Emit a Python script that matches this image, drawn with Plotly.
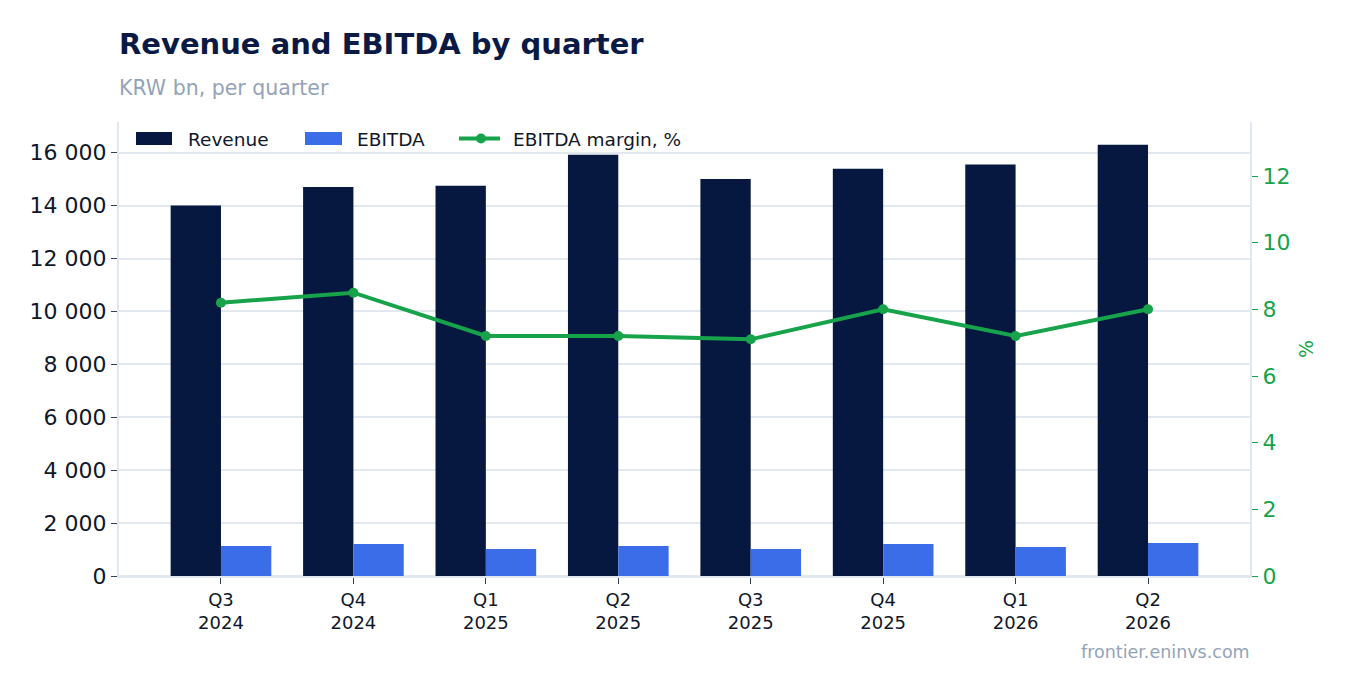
import plotly.graph_objects as go

quarters = ["Q3<br>2024", "Q4<br>2024", "Q1<br>2025", "Q2<br>2025",
            "Q3<br>2025", "Q4<br>2025", "Q1<br>2026", "Q2<br>2026"]
revenue = [14000, 14700, 14750, 15920, 15010, 15390, 15550, 16300]
ebitda = [1135, 1210, 1020, 1135, 1020, 1210, 1100, 1250]
margin = [8.2, 8.5, 7.2, 7.2, 7.1, 8.0, 7.2, 8.0]
series_names = ["Revenue", "EBITDA", "EBITDA margin, %"]

NAVY = "#061740"
BLUE = "#3b6de8"
GREEN = "#16a34a"
GRID = "#e2e8f0"
TEXT = "#0f172a"

# plot area in page pixels (page has an 8px body margin)
PL, PR, PT, PB = 119, 1250, 122, 576
PW, PH = PR - PL, PB - PT


def px(X):
    return (X - PL) / PW


def py(Y):
    return (PB - Y) / PH


fig = go.Figure()
fig.add_trace(go.Bar(x=quarters, y=revenue, name=series_names[0], marker_color=NAVY,
                     marker_line_width=0))
fig.add_trace(go.Bar(x=quarters, y=ebitda, name=series_names[1], marker_color=BLUE,
                     marker_line_width=0))
fig.add_trace(go.Scatter(x=quarters, y=margin, name=series_names[2], yaxis="y2",
                         mode="lines+markers", line=dict(color=GREEN, width=4),
                         marker=dict(size=10, color=GREEN)))

fig.update_layout(
    width=1350, height=693,
    font=dict(family="DejaVu Sans", color=TEXT),
    paper_bgcolor="white", plot_bgcolor="white",
    margin=dict(l=PL - 8, r=1350 - (PR - 8), t=PT - 8, b=693 - (PB - 8)),
    title=dict(text="<b>Revenue and EBITDA by quarter</b>", x=(119 - 8) / 1350, xanchor="left",
               y=1 - (44 - 8) / 693, yanchor="middle", font=dict(size=29, color="#0b1a44")),
    separators=". ",
    barmode="group", bargap=0.24, bargroupgap=0,
    showlegend=False,
    xaxis=dict(range=[-0.77, 7.77], tickfont=dict(size=18), ticks="outside", ticklen=6,
               tickcolor="#334155", showline=True, linecolor=GRID, linewidth=2),
    yaxis=dict(range=[0, 17160], tickvals=list(range(0, 16001, 2000)), tickformat=",d",
               tickfont=dict(size=22), ticks="outside", ticklen=6, tickcolor="#334155",
               showgrid=True, gridcolor=GRID, gridwidth=2,
               zeroline=True, zerolinecolor=GRID, zerolinewidth=2,
               showline=True, linecolor=GRID, linewidth=2),
    yaxis2=dict(overlaying="y", side="right", range=[0, 13.62], tickvals=list(range(0, 13, 2)),
                tickfont=dict(size=22, color=GREEN), ticks="outside", ticklen=6, tickcolor=GREEN,
                showgrid=False, zeroline=False, showline=True, linecolor=GRID, linewidth=2,
                title=dict(text="%", font=dict(size=19, color=GREEN), standoff=10)),
)

# manual legend (wide swatches like the reference)
fig.add_shape(type="rect", xref="paper", yref="paper", x0=px(136), x1=px(172),
              y0=py(145), y1=py(132), fillcolor=NAVY, line_width=0)
fig.add_shape(type="rect", xref="paper", yref="paper", x0=px(305), x1=px(342),
              y0=py(145), y1=py(132), fillcolor=BLUE, line_width=0)
fig.add_shape(type="line", xref="paper", yref="paper", x0=px(459), x1=px(500),
              y0=py(138.5), y1=py(138.5), line=dict(color=GREEN, width=4))
fig.add_shape(type="circle", xref="paper", yref="paper", x0=px(476), x1=px(486),
              y0=py(143.5), y1=py(133.5), fillcolor=GREEN, line_width=0)
for X, name in zip([186, 355, 511], series_names):
    fig.add_annotation(text=name, xref="paper", yref="paper", x=px(X), y=py(139.5),
                       xanchor="left", yanchor="middle", showarrow=False,
                       font=dict(size=18.5, color=TEXT))

fig.add_annotation(text="KRW bn, per quarter", xref="paper", yref="paper",
                   x=px(117), y=py(88), xanchor="left", yanchor="middle",
                   showarrow=False, font=dict(size=20.5, color="#94a3b8"))
fig.add_annotation(text="frontier.eninvs.com", xref="paper", yref="paper",
                   x=px(1252), y=py(652), xanchor="right", yanchor="middle",
                   showarrow=False, font=dict(size=17.5, color="#94a3b8"))

fig.write_html("out.html")
